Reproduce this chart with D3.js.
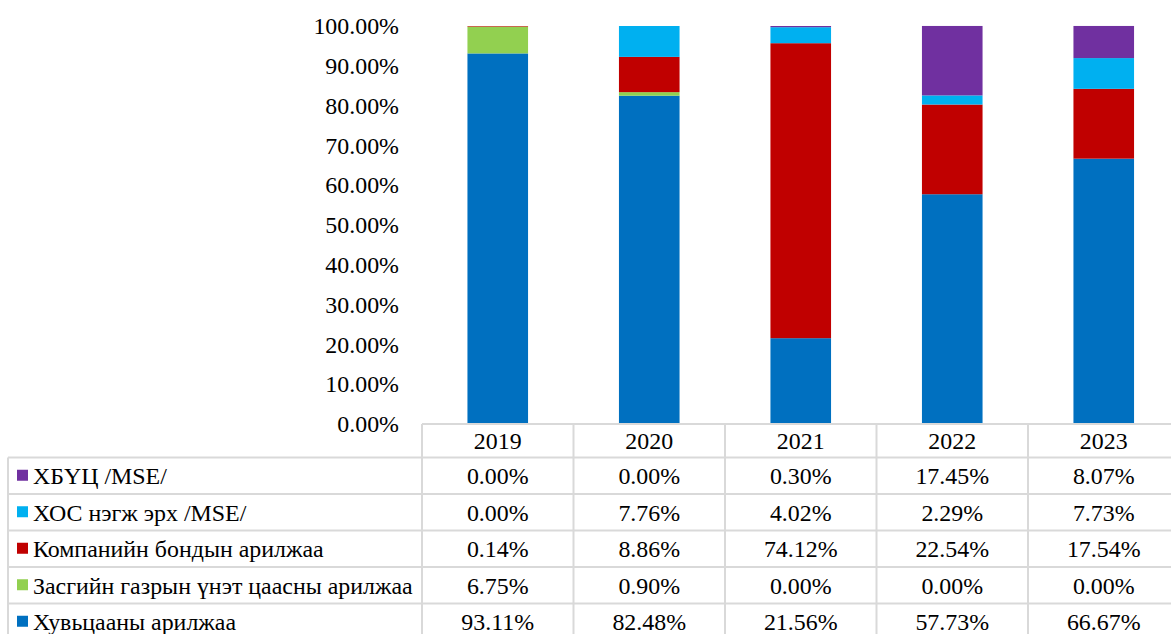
<!DOCTYPE html>
<html>
<head>
<meta charset="utf-8">
<script src="https://cdn.jsdelivr.net/npm/d3@7"></script>
<style>
  html, body { margin: 0; padding: 0; background: #fff; }
  svg { display: block; }
</style>
</head>
<body>
<svg id="chart" width="1171" height="634"></svg>
<script>
// ---- Data ----
const years = ["2019", "2020", "2021", "2022", "2023"];
const seriesNames = [
  "Хувьцааны арилжаа",
  "Засгийн газрын үнэт цаасны арилжаа",
  "Компанийн бондын арилжаа",
  "ХОС нэгж эрх /MSE/",
  "ХБҮЦ /MSE/"
];
const seriesColors = ["#0070c0", "#92d050", "#c00000", "#00b0f0", "#7030a0"];
const sharesStock  = [93.11, 82.48, 21.56, 57.73, 66.67];
const sharesGov    = [6.75, 0.90, 0.00, 0.00, 0.00];
const sharesCorp   = [0.14, 8.86, 74.12, 22.54, 17.54];
const sharesETF    = [0.00, 7.76, 4.02, 2.29, 7.73];
const sharesABS    = [0.00, 0.00, 0.30, 17.45, 8.07];
const yTicks = [0, 10, 20, 30, 40, 50, 60, 70, 80, 90, 100];

const seriesValues = [sharesStock, sharesGov, sharesCorp, sharesETF, sharesABS];
const rows = years.map((y, i) => {
  const r = { year: y };
  seriesNames.forEach((s, j) => r[s] = seriesValues[j][i]);
  return r;
});

// ---- Layout ----
const FONT = "'Liberation Serif', 'Times New Roman', Times, serif";
const svg = d3.select("#chart").style("font-family", FONT);
const colStep = 151.5;
const plotLeft = 422;
const plotTop = 26, plotBottom = 424;
const tableLeft = 8;
const headerBottom = 457.5;
const rowH = 36.5;
const fontSize = 23.9;
const gridColor = "#d9d9d9";

const x = d3.scaleBand()
  .domain(years)
  .range([plotLeft, plotLeft + colStep * years.length])
  .paddingInner(0.6)
  .paddingOuter(0.3);

const y = d3.scaleLinear().domain([0, 100]).range([plotBottom, plotTop]);

const stacked = d3.stack().keys(seriesNames)(rows);

// Bars
svg.append("g")
  .selectAll("g")
  .data(stacked)
  .join("g")
  .attr("fill", (d, i) => seriesColors[i])
  .selectAll("rect")
  .data(d => d)
  .join("rect")
  .attr("x", d => x(d.data.year))
  .attr("width", x.bandwidth())
  .attr("y", d => y(d[1]))
  .attr("height", d => Math.max(0, y(d[0]) - y(d[1])));

// Y axis labels
const yAxis = d3.axisLeft(y)
  .tickValues(yTicks)
  .tickFormat(d => d.toFixed(2) + "%")
  .tickSize(0)
  .tickPadding(0);
const yg = svg.append("g")
  .attr("transform", `translate(399,0)`)
  .call(yAxis)
  .attr("font-family", null)
  .attr("font-size", null);
yg.select(".domain").remove();
yg.selectAll("text")
  .style("font-family", FONT)
  .style("font-size", fontSize + "px")
  .attr("fill", "#000");

// ---- Data table ----
const colLeft = yr => x(yr) - x.step() * x.paddingOuter();
const colCenter = yr => x(yr) + x.bandwidth() / 2;
const tableRight = plotLeft + colStep * years.length;
const tableRows = seriesNames.slice().reverse();
const rowTop = i => headerBottom + i * rowH;
const tableBottom = rowTop(tableRows.length);

const grid = svg.append("g").attr("stroke", gridColor).attr("stroke-width", 2).attr("fill", "none");
grid.append("line").attr("x1", plotLeft).attr("x2", tableRight).attr("y1", plotBottom).attr("y2", plotBottom);
for (let i = 0; i <= tableRows.length; i++) {
  grid.append("line").attr("x1", tableLeft).attr("x2", tableRight).attr("y1", rowTop(i)).attr("y2", rowTop(i));
}
grid.append("line").attr("x1", tableLeft).attr("x2", tableLeft).attr("y1", headerBottom).attr("y2", tableBottom);
years.forEach(yr => {
  grid.append("line").attr("x1", colLeft(yr)).attr("x2", colLeft(yr)).attr("y1", plotBottom).attr("y2", tableBottom);
});
grid.append("line").attr("x1", tableRight).attr("x2", tableRight).attr("y1", plotBottom).attr("y2", tableBottom);

function styleText(sel) {
  return sel.style("font-family", FONT).style("font-size", fontSize + "px").attr("fill", "#000");
}

svg.append("g").selectAll("text")
  .data(years)
  .join("text")
  .attr("x", d => colCenter(d))
  .attr("y", (plotBottom + headerBottom) / 2)
  .attr("dy", "0.35em")
  .attr("text-anchor", "middle")
  .call(styleText)
  .text(d => d);

tableRows.forEach((name, i) => {
  const si = seriesNames.indexOf(name);
  const cy = rowTop(i) + rowH / 2;
  const g = svg.append("g");
  g.append("rect")
    .attr("x", 17).attr("y", cy - 6).attr("width", 11).attr("height", 11)
    .attr("fill", seriesColors[si]);
  g.append("text")
    .attr("x", 33).attr("y", cy).attr("dy", "0.35em")
    .call(styleText)
    .text(name);
  g.selectAll("text.v")
    .data(years)
    .join("text")
    .attr("class", "v")
    .attr("x", d => colCenter(d))
    .attr("y", cy).attr("dy", "0.35em")
    .attr("text-anchor", "middle")
    .call(styleText)
    .text((d, k) => seriesValues[si][k].toFixed(2) + "%");
});
</script>
</body>
</html>
